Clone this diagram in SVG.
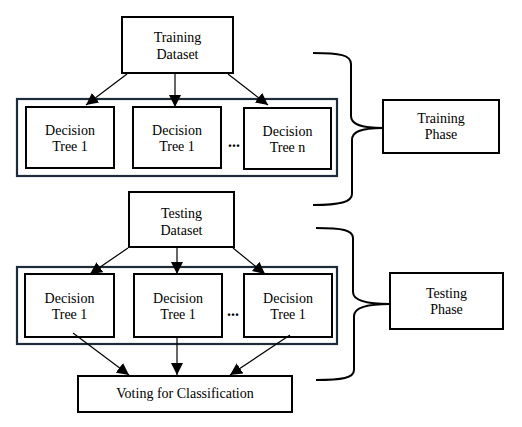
<svg xmlns="http://www.w3.org/2000/svg" width="522" height="427" viewBox="0 0 522 427">
<style>
.box{fill:#fff;stroke:#000;stroke-width:2}
.cont{fill:none;stroke:#1e2b38;stroke-width:2.2}
text{font-family:'Liberation Serif',serif;fill:#000;text-anchor:middle}
.t{font-size:14px}
.dots{font-size:16px;font-weight:bold}
.ln{stroke:#000;stroke-width:1.2;fill:none}
.br{stroke:#000;stroke-width:2;fill:none}
</style>
<defs>
<marker id="ah" viewBox="0 0 12 12" refX="12" refY="6" markerWidth="12" markerHeight="12" markerUnits="userSpaceOnUse" orient="auto">
<path d="M0,0 L12,6 L0,12 Z" fill="#000"/>
</marker>
</defs>
<rect width="522" height="427" fill="#fff"/>

<g id="containers">
<rect class="cont" x="17" y="99" width="320" height="77"/>
<rect class="cont" x="17" y="267" width="320" height="77"/>
</g>

<g id="training-dataset">
<rect class="box" x="122" y="17" width="111" height="56"/>
<text class="t" x="177.5" y="42">Training</text>
<text class="t" x="177.5" y="59">Dataset</text>
</g>

<g id="train-tree-1">
<rect class="box" x="26" y="107" width="88" height="61"/>
<text class="t" x="70" y="135">Decision</text>
<text class="t" x="70" y="151">Tree 1</text>
</g>
<g id="train-tree-2">
<rect class="box" x="133" y="107" width="88" height="61"/>
<text class="t" x="177" y="135">Decision</text>
<text class="t" x="177" y="151">Tree 1</text>
</g>
<g id="train-dots"><text class="dots" x="234" y="147">...</text></g>
<g id="train-tree-n">
<rect class="box" x="244" y="108" width="87" height="61"/>
<text class="t" x="287.5" y="136">Decision</text>
<text class="t" x="287.5" y="152">Tree n</text>
</g>

<g id="testing-dataset">
<rect class="box" x="129" y="192" width="105" height="55"/>
<text class="t" x="181.5" y="218">Testing</text>
<text class="t" x="181.5" y="235">Dataset</text>
</g>

<g id="test-tree-1">
<rect class="box" x="25" y="274" width="89" height="63"/>
<text class="t" x="69.5" y="303">Decision</text>
<text class="t" x="69.5" y="319">Tree 1</text>
</g>
<g id="test-tree-2">
<rect class="box" x="134" y="274" width="88" height="63"/>
<text class="t" x="178" y="303">Decision</text>
<text class="t" x="178" y="319">Tree 1</text>
</g>
<g id="test-dots"><text class="dots" x="233" y="316">...</text></g>
<g id="test-tree-3">
<rect class="box" x="244" y="274" width="88" height="63"/>
<text class="t" x="288" y="303">Decision</text>
<text class="t" x="288" y="319">Tree 1</text>
</g>

<g id="voting">
<rect class="box" x="78" y="376" width="214" height="36"/>
<text class="t" x="185" y="398">Voting for Classification</text>
</g>

<g id="training-phase">
<rect class="box" x="383" y="100" width="116" height="53"/>
<text class="t" x="441" y="123">Training</text>
<text class="t" x="441" y="139">Phase</text>
</g>
<g id="testing-phase">
<rect class="box" x="390" y="273" width="113" height="56"/>
<text class="t" x="446.5" y="298">Testing</text>
<text class="t" x="446.5" y="314">Phase</text>
</g>

<g id="connectors">
<line class="ln" x1="127" y1="74" x2="86" y2="105" marker-end="url(#ah)"/>
<line class="ln" x1="175" y1="74" x2="175" y2="107" marker-end="url(#ah)"/>
<line class="ln" x1="228" y1="74" x2="268" y2="105" marker-end="url(#ah)"/>
<line class="ln" x1="128" y1="248" x2="90" y2="274" marker-end="url(#ah)"/>
<line class="ln" x1="177" y1="248" x2="177" y2="274" marker-end="url(#ah)"/>
<line class="ln" x1="233" y1="248" x2="265" y2="274" marker-end="url(#ah)"/>
<line class="ln" x1="73" y1="333" x2="129" y2="375" marker-end="url(#ah)"/>
<line class="ln" x1="177" y1="337" x2="177" y2="375" marker-end="url(#ah)"/>
<line class="ln" x1="290" y1="335" x2="230" y2="375" marker-end="url(#ah)"/>
</g>

<g id="braces">
<path class="br" d="M313,53 C340,53 351,55 351,64 L351,116 C351,124 360,128 383,128 C360,128 352,132 352,140 L352,194 C352,202 340,205 313,205"/>
<path class="br" d="M316,228 C342,228 353,230 353,238 L353,292 C353,300 365,304 390,304 C365,304 354,308 354,316 L354,370 C354,378 342,380 316,380"/>
</g>
</svg>
